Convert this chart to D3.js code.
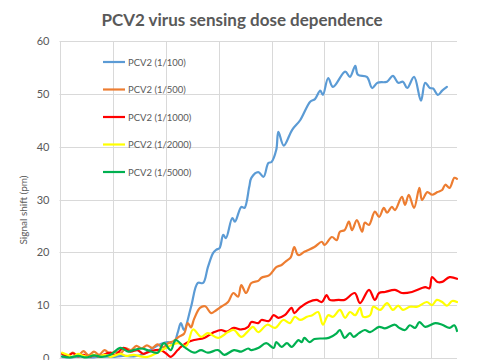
<!DOCTYPE html>
<html>
<head>
<meta charset="utf-8">
<script src="https://cdn.jsdelivr.net/npm/d3@7"></script>
<style>
  html, body { margin: 0; padding: 0; background: #fff; }
  svg { display: block; }
</style>
</head>
<body>
<svg id="chart" width="485" height="360"></svg>
<script>
// ---- data (time units, signal shift pm) ----
const title = "PCV2 virus sensing dose dependence";
const yLabel = "Signal shift (pm)";
const yTicks = [0, 10, 20, 30, 40, 50, 60];
const xGrid = [0, 10, 20, 30, 40, 50, 60, 70];
const seriesNames = ["PCV2 (1/100)", "PCV2 (1/500)", "PCV2 (1/1000)", "PCV2 (1/2000)", "PCV2 (1/5000)"];
const seriesColors = ["#5B9BD5", "#ED7D31", "#FF0000", "#FFFF00", "#00B050"];

const blue = [[0.5,0.2],[2,0.1],[4,0.3],[6,0.1],[8,0.3],[10,0.2],[12,0.4],[14,0.3],[16,0.8],[17.5,1.8],[19,2.6],[20.5,3.0],[21.5,2.6],[22.3,4.8],[22.9,6.6],[23.5,5.3],[24.8,9.6],[26.1,14.2],[27.1,14.2],[28,17.2],[29,19.9],[29.6,20.5],[30.2,20.8],[30.9,23.3],[31.4,22.7],[32.6,26.5],[33.1,25.8],[34.3,28.6],[34.9,28.4],[35.8,32.4],[36.2,34.1],[37.5,35.2],[38.5,34.3],[39.4,36.9],[40,37.1],[40.9,39.4],[41.3,42.8],[42.3,40.2],[43.9,43.2],[45.4,45],[47.3,48.5],[48.2,49],[49.2,50.6],[49.7,49.8],[50.7,53],[51.6,51.3],[53.9,54.2],[54.8,53.2],[55.8,55.3],[56.3,53.6],[58,53.2],[59,51.1],[60,52.1],[61.8,52.3],[62.9,53.4],[63.9,52.1],[64.8,52.3],[65.6,51.1],[66.9,53.2],[68.2,48.7],[69,52.1],[69.9,51.1],[70.5,51.0],[71.4,49.8],[72.2,50.6],[73.1,51.3]];

const orange = [[0.5,0.8],[1.5,0.3],[2.5,1.0],[3.5,0.4],[4.5,1.3],[5.5,0.5],[6.5,1.2],[7.5,0.6],[8.5,1.5],[9.5,0.8],[10.5,1.2],[11.5,0.9],[12.5,1.8],[13.5,1.5],[14.5,2.3],[15.5,1.8],[16.5,2.4],[17.5,1.9],[18.5,2.6],[19.5,2.0],[20.5,2.8],[21.5,3.2],[22.5,4.0],[23.5,4.6],[24.2,6.6],[24.8,5.8],[25.4,7.4],[26.5,9.5],[27.5,9.8],[28.6,8.5],[29.5,9.0],[30.5,9.7],[31.8,10.6],[32.8,12.3],[33.7,11.6],[34.3,13.8],[35.2,12.3],[36.2,14.2],[37.5,14.6],[38.1,15.2],[39.6,15.7],[40.9,17.2],[41.9,17.6],[42.7,18.3],[43.6,19.0],[44.3,21.0],[44.9,19.6],[45.3,19.5],[46.2,20.1],[48.1,21.0],[49.5,22.0],[50.0,21.4],[51.4,22.9],[52.3,22.3],[52.9,23.9],[53.8,24.2],[54.6,25.8],[55.2,24.2],[56.1,26.1],[57.1,23.9],[57.6,25.6],[58.4,25.2],[59.5,27.7],[60.3,26.7],[61.2,28.4],[61.8,27.5],[62.7,28.6],[63.3,28.0],[64.6,30.5],[65.2,29.0],[65.9,30.9],[66.9,28.4],[67.9,32.2],[68.4,29.9],[69.4,31.4],[70.3,30.9],[71.3,31.4],[72.2,31.8],[72.8,32.8],[73.6,32.2],[74.5,34.1],[75,33.9]];

const red = [[0.5,0.8],[1.5,0.4],[2.5,0.9],[3.5,0.3],[4.5,0.6],[5.5,0.2],[6.5,0.5],[7.5,0.3],[8.5,0.7],[9.6,1.0],[10.5,0.6],[12.1,1.9],[13.4,1.2],[14.7,1.5],[15.8,0.8],[17.2,1.3],[19.1,1.5],[20.2,0.8],[21,0.2],[22.3,1.5],[22.9,2.1],[24.2,3.0],[25.4,3.4],[27.3,3.8],[28.5,4.5],[29.2,4.9],[30.5,5.3],[31.5,5.0],[32.9,5.7],[34.3,5.4],[35.6,5.9],[36.2,6.8],[37.5,6.6],[38.1,7.2],[39.5,7.0],[40.4,8.1],[41.3,7.6],[42.5,8.1],[43.8,9.5],[44.3,8.5],[45.3,9.5],[47,10.6],[48.5,11.0],[49.5,10.6],[50.4,11.9],[51,11.0],[52.7,11.0],[53.8,11.0],[55.7,12.3],[56.7,10.4],[58.4,12.9],[59.5,11.0],[60.3,12.3],[61.4,12.5],[63.3,12.9],[64.6,12.3],[66.5,12.5],[69,13.4],[69.8,13.2],[70.3,15.3],[71.3,14.4],[72.2,14.4],[73.6,15.3],[75,15.0]];

const yellow = [[0.5,1.0],[1.5,0.6],[2.5,0.2],[3.5,0.8],[4.5,0.4],[5.5,0.2],[6.4,0.6],[7.5,0.3],[8.5,0.6],[9.6,0.2],[10.5,0.5],[11.5,0.8],[12.5,0.4],[14,0.6],[15.3,0.3],[16.6,0.2],[18.5,1.0],[20.4,2.1],[22.3,2.8],[23.9,2.3],[25.2,5.4],[26.7,4.0],[28,4.7],[29.9,3.8],[31.8,4.9],[32.9,5.3],[34.3,4.0],[35.4,4.9],[36.5,5.9],[37.5,4.9],[39.2,6.3],[40.7,5.7],[42.2,7.2],[43.5,6.6],[44.4,7.8],[45.4,7.2],[46.7,7.8],[47.7,8.1],[48.8,8.7],[49.7,6.3],[50.7,8.1],[51.6,7.8],[52.9,9.1],[53.9,7.6],[54.8,8.7],[55.8,8.1],[56.7,9.5],[57.3,7.8],[58.6,8.1],[59.2,9.7],[60.5,9.1],[61.8,10.4],[62.9,9.1],[63.9,9.9],[64.8,9.1],[66.1,9.7],[67.5,9.7],[69.3,10.6],[70.3,10.0],[71.2,11.0],[72.2,10.6],[73.1,9.9],[74.1,10.8],[75,10.6]];

const green = [[0.5,0.3],[2,0.1],[3.5,0.4],[5,0.1],[6.5,0.5],[8,0.2],[9.6,0.6],[11.5,1.9],[13,1.2],[14,1.5],[15.5,1.8],[16.6,1.5],[18.5,1.0],[19.7,2.8],[21,1.5],[21.9,3.4],[23.5,2.1],[25.4,1.0],[26.7,1.5],[28,1.0],[29.9,1.5],[31.1,0.6],[32.9,1.5],[34.3,1.2],[35.6,1.8],[36.2,1.5],[37.5,1.9],[39,2.8],[40.4,1.9],[40.9,3.0],[41.9,2.1],[42.9,2.8],[43.8,2.1],[45.1,3.4],[45.7,3.0],[46.2,3.8],[47.2,3.0],[48.1,3.6],[50.8,3.8],[52.3,4.7],[52.9,5.3],[53.8,3.8],[54.8,4.7],[55.5,4.0],[56.5,4.7],[57.6,5.3],[58.6,4.9],[60.3,5.9],[61.4,5.6],[63.3,6.3],[64.1,5.7],[65.2,5.3],[66.1,6.2],[67.1,5.7],[67.9,6.8],[69,5.9],[70.9,6.6],[72.2,6.3],[73.6,5.7],[74.5,6.2],[75,5.1]];

const seriesData = [blue, orange, red, yellow, green];

// ---- layout ----
const svg = d3.select("#chart");
const pLeft = 59.5, pRight = 457, pTop = 41, pBottom = 358;
const x = d3.scaleLinear().domain([0, 75]).range([pLeft, pRight]);
const y = d3.scaleLinear().domain([0, 60]).range([pBottom, pTop]);
const textColor = "#595959";
const font = "Lato, 'Liberation Sans', sans-serif";

// gridlines
svg.append("g").selectAll("line").data(yTicks).join("line")
  .attr("x1", pLeft).attr("x2", pRight)
  .attr("y1", d => Math.round(y(d)) + 0.5).attr("y2", d => Math.round(y(d)) + 0.5)
  .attr("stroke", "#D9D9D9").attr("stroke-width", 1);
svg.append("g").selectAll("line").data(xGrid).join("line")
  .attr("x1", d => Math.round(x(d)) + 0.5).attr("x2", d => Math.round(x(d)) + 0.5)
  .attr("y1", pTop).attr("y2", pBottom)
  .attr("stroke", "#D9D9D9").attr("stroke-width", 1);

// y axis tick labels
const yAxis = d3.axisLeft(y).tickValues(yTicks).tickSize(0).tickPadding(10);
const gy = svg.append("g").attr("transform", `translate(${pLeft},0)`).call(yAxis);
gy.select(".domain").remove();
gy.selectAll("text").attr("fill", textColor).style("font-family", font).style("font-size", "11px");

// lines
const line = d3.line().x(d => x(d[0])).y(d => y(d[1])).curve(d3.curveCatmullRom.alpha(0.5));
svg.append("g").selectAll("path").data(seriesData).join("path")
  .attr("d", d => line(d))
  .attr("fill", "none")
  .attr("stroke", (d, i) => seriesColors[i])
  .attr("stroke-width", 2.2)
  .attr("stroke-linejoin", "round").attr("stroke-linecap", "round");

// title
svg.append("text").attr("x", 242).attr("y", 26).attr("text-anchor", "middle")
  .attr("fill", textColor).style("font-family", font).style("font-weight", "bold")
  .style("font-size", "17px").text(title);

// y label
svg.append("text").attr("transform", "translate(27,210) rotate(-90)")
  .attr("text-anchor", "middle").attr("fill", textColor)
  .style("font-family", font).style("font-size", "10px").text(yLabel);

// legend
const legY = [62, 89.5, 117, 144.5, 172];
const leg = svg.append("g").selectAll("g").data(seriesNames).join("g")
  .attr("transform", (d, i) => `translate(103,${legY[i]})`);
leg.append("line").attr("x1", 0).attr("x2", 22).attr("y1", 0).attr("y2", 0)
  .attr("stroke", (d, i) => seriesColors[i]).attr("stroke-width", 2.2);
leg.append("text").attr("x", 25).attr("y", 3.5).attr("fill", textColor)
  .style("font-family", font).style("font-size", "9.5px").text(d => d);
</script>
</body>
</html>
